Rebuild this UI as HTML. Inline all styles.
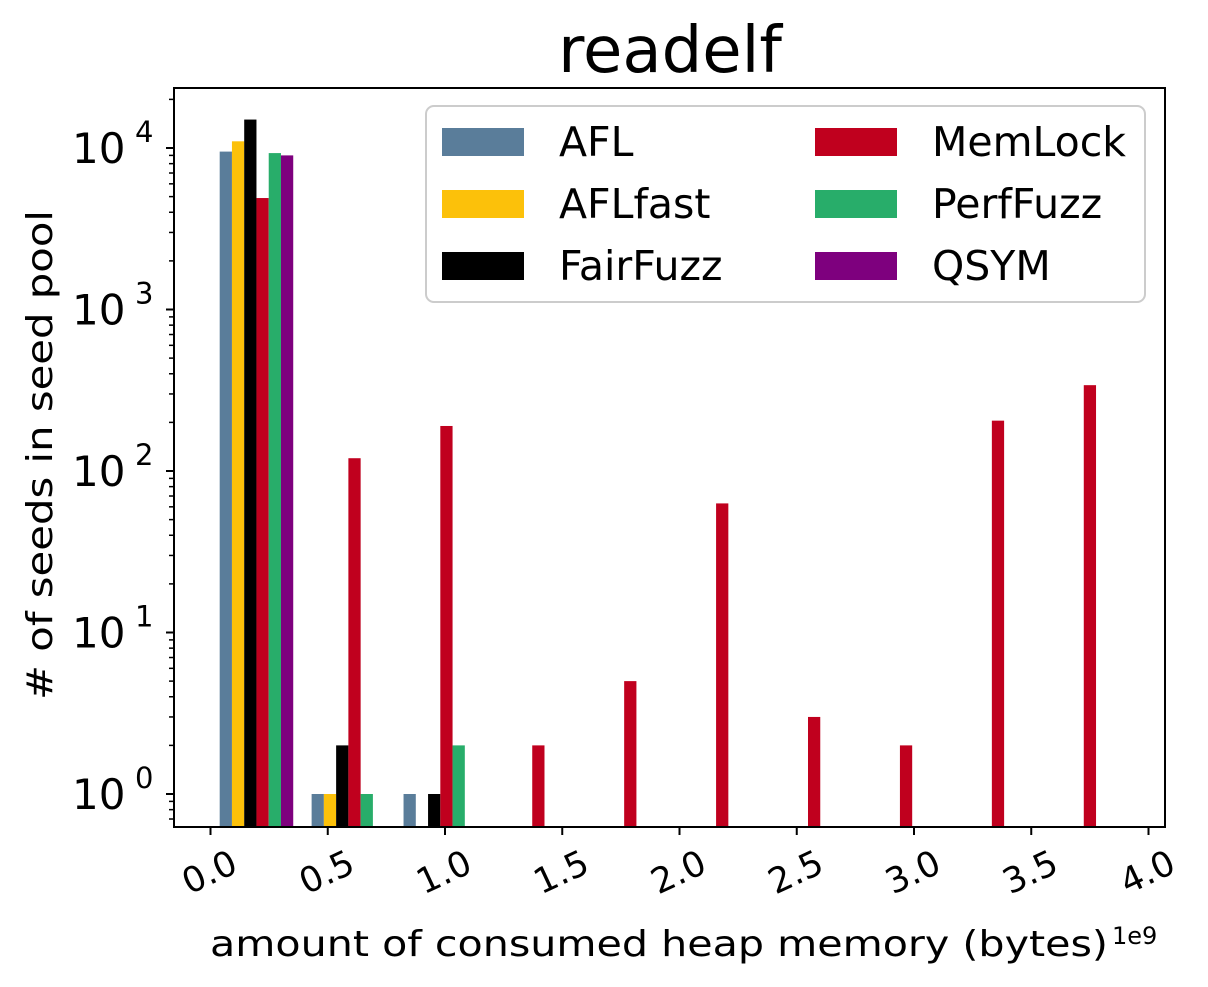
<!DOCTYPE html>
<html><head><meta charset="utf-8"><style>
body{margin:0;background:#fff;}
svg text{font-family:"DejaVu Sans","Liberation Sans",sans-serif;}
</style></head><body>
<svg id="chart" width="1208" height="982" viewBox="0 0 1208 982" xmlns="http://www.w3.org/2000/svg">
<rect width="1208" height="982" fill="#fff"/>
<text x="670" y="72" font-size="64" text-anchor="middle">readelf</text>
<g id="bars"></g>
<rect x="174" y="88" width="991" height="739" fill="none" stroke="#000" stroke-width="2"/>
<g id="axes"></g>
<text transform="translate(52,455) rotate(-90)" font-size="36" text-anchor="middle" textLength="490" lengthAdjust="spacingAndGlyphs"># of seeds in seed pool</text>
<text x="210" y="956" font-size="36" textLength="898" lengthAdjust="spacingAndGlyphs">amount of consumed heap memory (bytes)</text>
<text x="1112" y="944" font-size="24">1e9</text>
<g id="legend"></g>
</svg>
<script>
const series = ["AFL","AFLfast","FairFuzz","MemLock","PerfFuzz","QSYM"];
const colors = ["#5a7d9a","#fcc10a","#000000","#c0001e","#28ad6a","#7e007e"];
const binWidth = 0.392;
const afl      = [9500,1,1,0,0,0,0,0,0,0];
const aflfast  = [11000,1,0,0,0,0,0,0,0,0];
const fairfuzz = [15000,2,1,0,0,0,0,0,0,0];
const memlock  = [4900,120,190,2,5,63,3,2,205,340];
const perffuzz = [9300,1,2,0,0,0,0,0,0,0];
const qsym     = [9000,0,0,0,0,0,0,0,0,0];
const xTicks = [0,0.5,1,1.5,2,2.5,3,3.5,4];
const yTicks = [0,1,2,3,4];

const NS="http://www.w3.org/2000/svg";
const X0=210.5, XS=234.5, Y0=794, DEC=161.5, BOTTOM=827;
const xs=v=>X0+v*XS;
const ys=v=>Y0-Math.log10(v)*DEC;
function mk(tag,attrs,parent){const e=document.createElementNS(NS,tag);for(const k in attrs)e.setAttribute(k,attrs[k]);parent.appendChild(e);return e;}
const bars=document.getElementById('bars');
const data=[afl,aflfast,fairfuzz,memlock,perffuzz,qsym];
const bw=binWidth*0.8/series.length;
data.forEach((arr,si)=>{arr.forEach((v,bi)=>{if(v<=0)return;
  const x=xs(bi*binWidth+binWidth*0.1+si*bw);
  const y=Math.max(ys(v),89);
  const r=mk('rect',{x:x,y:y,width:bw*XS,height:BOTTOM-y,fill:colors[si]},bars);
  
  
});});
const axes=document.getElementById('axes');
xTicks.forEach(t=>{const x=xs(t);
  const l=mk('line',{x1:x,x2:x,y1:827,y2:835,stroke:'#000','stroke-width':2},axes);
  
  
  const tx=mk('text',{transform:`translate(${x+4},${883}) rotate(-25)`,'font-size':35,'text-anchor':'middle'},axes);
  tx.textContent=t.toFixed(1);
  
  
});
yTicks.forEach(p=>{const y=Y0-p*DEC;
  const l=mk('line',{x1:166,x2:174,y1:y,y2:y,stroke:'#000','stroke-width':2},axes);
  
  
  const tx=mk('text',{x:72,y:y+15,'font-size':42},axes);
  tx.textContent='10';
  
  
  const sp=mk('text',{x:135,y:y-6,'font-size':29},axes);
  sp.textContent=String(p);
  
  
});
for(let p=-1;p<=4;p++){for(let m=2;m<=9;m++){const v=Math.pow(10,p)*m;const y=ys(v);
  if(y<89||y>826)continue;
  const l=mk('line',{x1:169,x2:174,y1:y,y2:y,stroke:'#000','stroke-width':1.5},axes);
  
  
}}
const lg=document.getElementById('legend');
mk('rect',{x:426,y:106,width:719,height:196,rx:8,fill:'#fff','fill-opacity':0.85,stroke:'#ccc','stroke-width':2},lg);
series.forEach((s,i)=>{const col=Math.floor(i/3),row=i%3;
  const x=col?815:442, y=128+row*62;
  const sw=mk('rect',{x:x,y:y,width:82,height:28,fill:colors[i]},lg);
  
  
  const t=mk('text',{x:x+117,y:y+28,'font-size':41},lg);
  t.textContent=s;
  
  
});
</script>
</body></html>
